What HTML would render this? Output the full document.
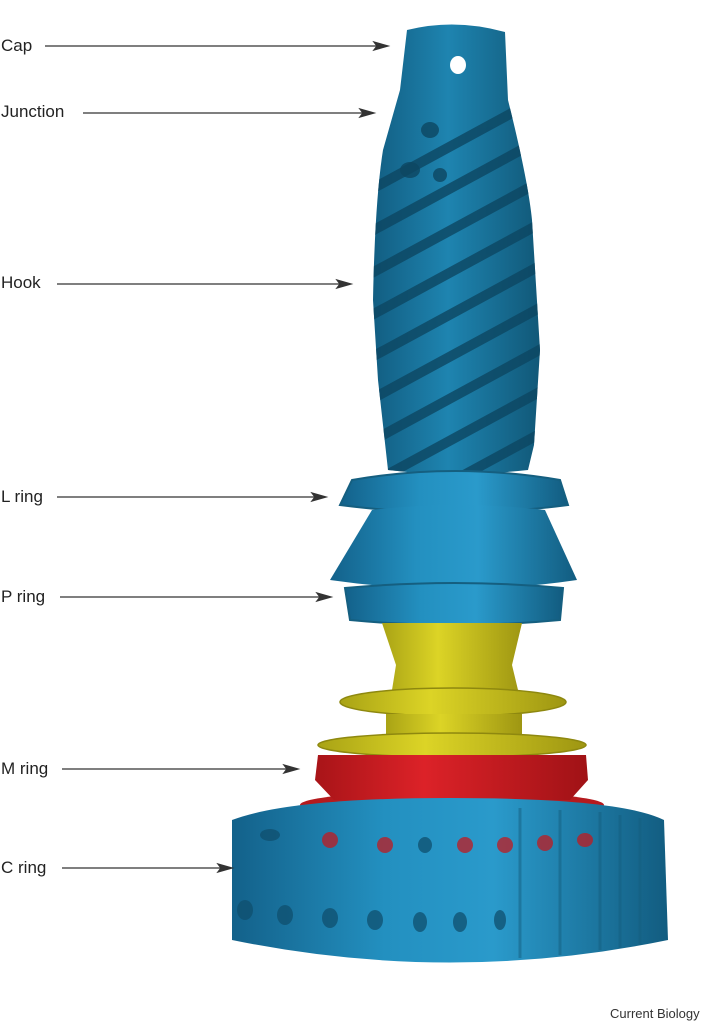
<!DOCTYPE html>
<html><head><meta charset="utf-8"><style>
html,body{margin:0;padding:0;background:#fff}
body{width:715px;height:1024px;position:relative;overflow:hidden;font-family:"Liberation Sans",sans-serif}
.l{position:absolute;left:1px;font-size:17px;color:#222;line-height:20px}
</style></head><body>
<svg width="715" height="1024" style="position:absolute;left:0;top:0">
<defs>
<linearGradient id="bl" x1="0" x2="1" y1="0" y2="0">
<stop offset="0" stop-color="#13618a"/><stop offset="0.35" stop-color="#2390c0"/><stop offset="0.6" stop-color="#2a9acb"/><stop offset="1" stop-color="#125c80"/></linearGradient>
<linearGradient id="hb" x1="0" x2="1" y1="0" y2="0">
<stop offset="0" stop-color="#125e82"/><stop offset="0.45" stop-color="#1e84b0"/><stop offset="1" stop-color="#115878"/></linearGradient>
<linearGradient id="ye" x1="0" x2="1"><stop offset="0" stop-color="#a9a315"/><stop offset="0.4" stop-color="#dcd426"/><stop offset="1" stop-color="#9e9612"/></linearGradient>
<linearGradient id="rd" x1="0" x2="1"><stop offset="0" stop-color="#a81418"/><stop offset="0.4" stop-color="#dc2228"/><stop offset="1" stop-color="#a01216"/></linearGradient>
<clipPath id="hk"><path d="M407,30 Q455,18 505,32 L508,100 Q528,180 532,220 L540,350 L534,445 L528,470 Q455,478 388,470 L378,380 L373,300 Q375,200 383,150 L400,90 Z"/></clipPath>
</defs>
<!-- hook -->
<path d="M407,30 Q455,18 505,32 L508,100 Q528,180 532,220 L540,350 L534,445 L528,470 Q455,478 388,470 L378,380 L373,300 Q375,200 383,150 L400,90 Z" fill="url(#hb)"/>
<g clip-path="url(#hk)" stroke="#0d4762" stroke-width="10" fill="none" opacity="0.8">
<path d="M370,190 L545,95"/><path d="M370,232 L545,137"/><path d="M370,274 L545,179"/><path d="M370,316 L545,221"/><path d="M370,358 L545,263"/><path d="M370,400 L545,305"/><path d="M370,442 L545,347"/><path d="M370,484 L545,389"/><path d="M370,526 L545,431"/>
</g>
<g fill="#0d4762" opacity="0.8"><ellipse cx="430" cy="130" rx="9" ry="8"/><ellipse cx="410" cy="170" rx="10" ry="8"/><ellipse cx="440" cy="175" rx="7" ry="7"/></g>
<ellipse cx="458" cy="65" rx="8" ry="9" fill="#fff"/>
<!-- L ring -->
<path d="M352,480 Q455,462 560,480 L568,505 Q455,520 340,505 Z" fill="url(#bl)" stroke="#155f80" stroke-width="2"/>
<!-- P bell -->
<path d="M372,510 Q458,500 545,510 L577,580 Q455,598 330,580 Z" fill="url(#bl)"/>
<path d="M345,588 Q455,578 563,588 L560,620 Q455,630 350,620 Z" fill="url(#bl)" stroke="#155f80" stroke-width="2"/>
<!-- yellow -->
<path d="M382,623 L522,623 L512,665 L518,690 L392,690 L396,665 Z" fill="url(#ye)"/>
<ellipse cx="453" cy="702" rx="113" ry="14" fill="url(#ye)" stroke="#8e880f" stroke-width="1.5"/>
<rect x="386" y="714" width="136" height="24" fill="url(#ye)"/>
<ellipse cx="452" cy="745" rx="134" ry="12" fill="url(#ye)" stroke="#8e880f" stroke-width="1.5"/>
<!-- red -->
<ellipse cx="452" cy="805" rx="152" ry="14" fill="#b51a1e"/>
<path d="M318,755 L586,755 L588,780 L570,800 L334,800 L315,780 Z" fill="url(#rd)"/>
<!-- C ring -->
<path d="M232,820 Q290,798 450,798 Q620,798 664,820 L668,940 Q450,985 232,940 Z" fill="url(#bl)"/>
<g fill="#0f4f6e" opacity="0.75">
<ellipse cx="270" cy="835" rx="10" ry="6"/><ellipse cx="330" cy="840" rx="8" ry="8" fill="#c01a20"/><ellipse cx="385" cy="845" rx="8" ry="8" fill="#c01a20"/><ellipse cx="425" cy="845" rx="7" ry="8"/><ellipse cx="465" cy="845" rx="8" ry="8" fill="#c01a20"/><ellipse cx="505" cy="845" rx="8" ry="8" fill="#c01a20"/><ellipse cx="545" cy="843" rx="8" ry="8" fill="#c01a20"/><ellipse cx="585" cy="840" rx="8" ry="7" fill="#c01a20"/>
<ellipse cx="245" cy="910" rx="8" ry="10"/><ellipse cx="285" cy="915" rx="8" ry="10"/><ellipse cx="330" cy="918" rx="8" ry="10"/><ellipse cx="375" cy="920" rx="8" ry="10"/><ellipse cx="420" cy="922" rx="7" ry="10"/><ellipse cx="460" cy="922" rx="7" ry="10"/><ellipse cx="500" cy="920" rx="6" ry="10"/>
</g>
<g stroke="#155f80" stroke-width="3" opacity="0.5">
<path d="M600,812 L600,950"/><path d="M620,815 L620,948"/><path d="M640,818 L640,945"/><path d="M560,810 L560,955"/><path d="M520,808 L520,958"/>
</g>
<!-- arrows -->
<g stroke="#333" stroke-width="1.3" fill="#333">
<line x1="45" y1="46" x2="380" y2="46"/><path d="M388,46 L374,42 L377,46 L374,50 Z"/>
<line x1="83" y1="113" x2="366" y2="113"/><path d="M374,113 L360,109 L363,113 L360,117 Z"/>
<line x1="57" y1="284" x2="343" y2="284"/><path d="M351,284 L337,280 L340,284 L337,288 Z"/>
<line x1="57" y1="497" x2="318" y2="497"/><path d="M326,497 L312,493 L315,497 L312,501 Z"/>
<line x1="60" y1="597" x2="323" y2="597"/><path d="M331,597 L317,593 L320,597 L317,601 Z"/>
<line x1="62" y1="769" x2="290" y2="769"/><path d="M298,769 L284,765 L287,769 L284,773 Z"/>
<line x1="62" y1="868" x2="224" y2="868"/><path d="M232,868 L218,864 L221,868 L218,872 Z"/>
</g>
</svg>
<div class="l" style="top:36px">Cap</div>
<div class="l" style="top:102px">Junction</div>
<div class="l" style="top:273px">Hook</div>
<div class="l" style="top:487px">L ring</div>
<div class="l" style="top:587px">P ring</div>
<div class="l" style="top:759px">M ring</div>
<div class="l" style="top:858px">C ring</div>
<div style="position:absolute;left:610px;top:1006px;font-size:13px;color:#333">Current Biology</div>
</body></html>
